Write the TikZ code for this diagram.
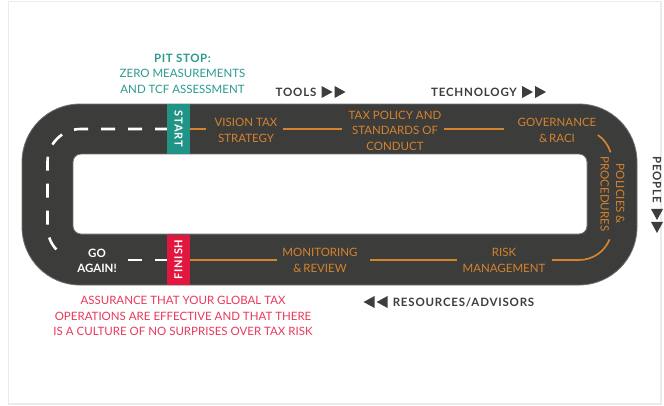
\documentclass[tikz,border=0pt]{standalone}
\usepackage{fontspec}
\setmainfont{Lato}
\definecolor{roadgray}{HTML}{3C3C3B}
\definecolor{roadedge}{HTML}{707070}
\definecolor{stepor}{HTML}{D4832F}
\definecolor{startteal}{HTML}{1F9487}
\definecolor{pitteal}{HTML}{2A9A8E}
\definecolor{finishred}{HTML}{E2173F}
\definecolor{assured}{HTML}{E8385A}
\definecolor{labelgray}{HTML}{3D3D3D}
\definecolor{framegray}{HTML}{EBEBEB}
\begin{document}
\begin{tikzpicture}[x=1pt,y=-1pt,
  road/.style={fill=roadgray, draw=roadedge, line width=0.8pt},
  stepline/.style={draw=stepor, line width=1.7pt},
  lane/.style={draw=white, line width=2.6pt, dash pattern=on 14pt off 13pt},
  steptext/.style={text=stepor, font=\fontsize{11.5}{15.5}\selectfont, align=center, inner sep=0pt},
  flag/.style={minimum width=50pt, minimum height=23pt, inner sep=0pt, text=white,
    font=\bfseries\fontsize{11}{13}\selectfont\addfontfeatures{LetterSpace=7}},
  resource/.style={text=labelgray, inner sep=0pt,
    font=\bfseries\fontsize{11.5}{14}\selectfont\addfontfeatures{LetterSpace=7}},
  note/.style={align=center, inner sep=0pt, font=\fontsize{11.5}{15.8}\selectfont},
  tri/.pic={
    \fill[labelgray] (0,-6) -- (11,0) -- (0,6) -- cycle;
    \fill[labelgray] (13,-6) -- (24,0) -- (13,6) -- cycle;
  }
]
\useasboundingbox (0,0) rectangle (664,405);
\draw[framegray, line width=1.5pt] (8.5,1.5) rectangle (661,404);

% the track
\path[road, rounded corners=58pt] (22,104) rectangle (637,285);
\path[fill=white, draw=roadedge, line width=0.8pt, rounded corners=8pt] (73,154) rectangle (587,234);

% corner centres of the lane line
\coordinate (nw) at (80.5,162);
\coordinate (sw) at (80.5,227);
\coordinate (ne) at (579,162);
\coordinate (se) at (579,227);

% white lane markings on the return leg
\coordinate (lanetop) at (169,129);
\coordinate (lanebot) at (128,260);
\coordinate (laneend) at (169,260);
\draw[lane] (lanetop) -- (80.5,129) arc[start angle=270, end angle=180, radius=33]
  -- (47.5,227) arc[start angle=180, end angle=134, radius=33];
\draw[lane] (lanebot) -- (laneend);

% start and finish flags
\node[flag, fill=startteal, rotate=-90] (start) at (178.5,129) {START};
\node[flag, fill=finishred, rotate=90] (finish) at (178.5,259.5) {FINISH};

% stations along the track
\node[steptext] (vision) at (246,130.5) {VISION TAX\\STRATEGY};
\node[steptext] (policy) at (395,130.5) {TAX POLICY AND\\STANDARDS OF\\CONDUCT};
\node[steptext] (gov) at (557,130.5) {GOVERNANCE\\\&\,RACI};
\node[steptext, rotate=-90] (procs) at (612.5,194) {POLICIES \&\\PROCEDURES};
\node[steptext] (risk) at (504,260.5) {RISK\\MANAGEMENT};
\node[steptext] (monitor) at (320,260.5) {MONITORING\\\&\,REVIEW};
\node[note, text=white, font=\bfseries\fontsize{11.5}{15.8}\selectfont] (again) at (97,260.8) {GO\\AGAIN!};

% orange track segments between the stations
\coordinate (t1) at (206,129);
\coordinate (t2) at (283,129);
\coordinate (t3) at (342,129);
\coordinate (t4) at (444,129);
\coordinate (t5) at (504,129);
\coordinate (b1) at (552,260);
\coordinate (b2) at (457,260);
\coordinate (b3) at (370,260);
\coordinate (b4) at (277,260);
\coordinate (b5) at (190,260);
\draw[stepline] (start.north) -- (t1);
\draw[stepline] (t2) -- (t3);
\draw[stepline] (t4) -- (t5);
\draw[stepline] (ne) ++(305:33) arc[start angle=305, end angle=343, radius=33];
\draw[stepline] (se) ++(22:33) arc[start angle=22, end angle=90, radius=33] -- (b1);
\draw[stepline] (b2) -- (b3);
\draw[stepline] (b4) -- (b5);

% notes at start and finish
\node[note, text=pitteal] (pit) at (182.5,73.8)
  {{\bfseries\addfontfeatures{LetterSpace=5}PIT STOP:}\\ZERO MEASUREMENTS\\AND TCF ASSESSMENT};
\node[note, text=assured] (assure) at (183,316)
  {ASSURANCE THAT YOUR GLOBAL TAX\\OPERATIONS ARE EFFECTIVE AND THAT THERE\\IS A CULTURE OF NO SURPRISES OVER TAX RISK};

% resources around the track
\node[resource] (tools) at (296,92) {TOOLS};
\pic at ([xshift=5pt]tools.east) {tri};
\node[resource] (tech) at (474,92) {TECHNOLOGY};
\pic at ([xshift=5pt]tech.east) {tri};
\node[resource, rotate=-90] (people) at (657,179.5) {PEOPLE};
\pic[rotate=-90] at ([yshift=-6pt]people.east) {tri};
\node[resource] (advisors) at (463.5,302) {RESOURCES/ADVISORS};
\pic[rotate=180] at ([xshift=-5pt]advisors.west) {tri};
\end{tikzpicture}
\end{document}
